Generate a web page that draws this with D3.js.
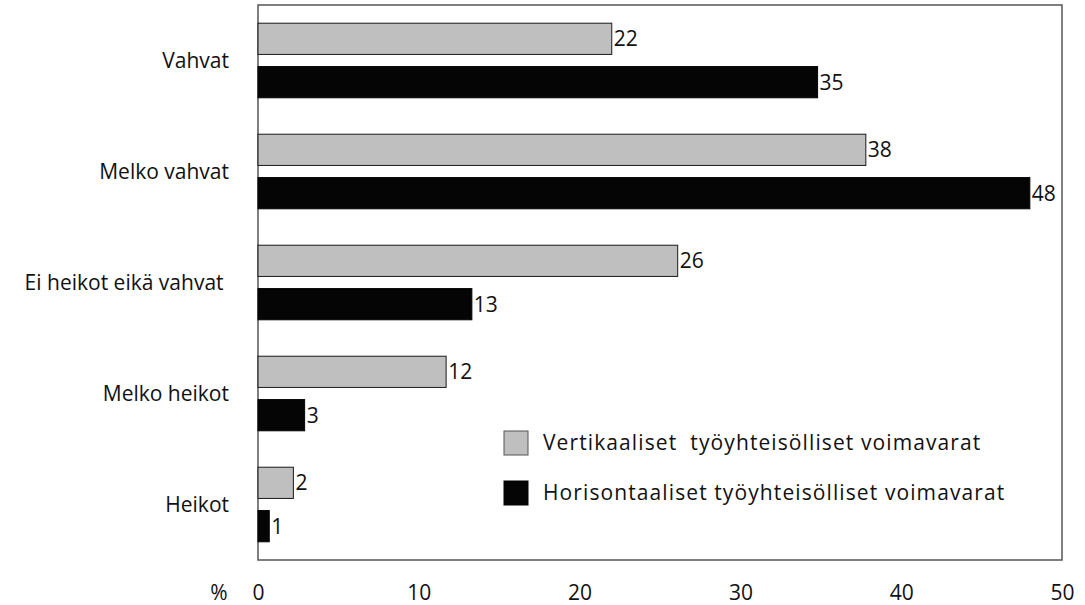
<!DOCTYPE html>
<html>
<head>
<meta charset="utf-8">
<script src="https://cdn.jsdelivr.net/npm/d3@7"></script>
<style>
  body { margin: 0; background: #fff; }
  text { font-family: "Open Sans", sans-serif; fill: #111; }
</style>
</head>
<body>
<svg id="chart" width="1085" height="605"></svg>
<script>
var categories = ["Vahvat", "Melko vahvat", "Ei heikot eikä vahvat ", "Melko heikot", "Heikot"];
var seriesNames = ["Vertikaaliset  työyhteisölliset voimavarat", "Horisontaaliset työyhteisölliset voimavarat"];
var vertical = [22.0, 37.8, 26.1, 11.7, 2.2];
var horizontal = [34.8, 48.0, 13.3, 2.9, 0.7];
var verticalLabels = ["22", "38", "26", "12", "2"];
var horizontalLabels = ["35", "48", "13", "3", "1"];
var ticks = [0, 10, 20, 30, 40, 50];

var colors = ["#bfbfbf", "#050505"];
var strokes = ["#1a1a1a", "#050505"];
var fontSize = "21px";

var svg = d3.select("#chart");
var plotLeft = 258, plotRight = 1062, plotTop = 5, plotBottom = 560;

var x = d3.scaleLinear().domain([0, 50]).range([plotLeft, plotRight]);
var y = d3.scaleBand().domain(categories).range([plotTop, plotBottom]);
var inner = d3.scaleBand().domain([0, 1]).range([0, y.bandwidth()]).paddingInner(0.28).paddingOuter(0.42);

var data = [];
categories.forEach(function(c, i) {
  data.push({cat: c, s: 0, v: vertical[i], label: verticalLabels[i]});
  data.push({cat: c, s: 1, v: horizontal[i], label: horizontalLabels[i]});
});

// frame
svg.append("rect")
  .attr("x", plotLeft).attr("y", plotTop)
  .attr("width", plotRight - plotLeft).attr("height", plotBottom - plotTop)
  .attr("fill", "none").attr("stroke", "#555").attr("stroke-width", 1.5);

svg.selectAll(".bar")
  .data(data)
  .enter().append("rect")
  .attr("class", "bar")
  .attr("x", x(0))
  .attr("y", function(d) { return y(d.cat) + inner(d.s); })
  .attr("width", function(d) { return x(d.v) - x(0); })
  .attr("height", inner.bandwidth())
  .attr("fill", function(d) { return colors[d.s]; })
  .attr("stroke", function(d) { return strokes[d.s]; })
  .attr("stroke-width", 1);

svg.selectAll(".val")
  .data(data)
  .enter().append("text")
  .attr("class", "val")
  .attr("x", function(d) { return x(d.v) + 2; })
  .attr("y", function(d) { return y(d.cat) + inner(d.s) + inner.bandwidth() / 2; })
  .attr("dy", "0.35em")
  .style("font-size", fontSize)
  .text(function(d) { return d.label; });

// category labels
svg.selectAll(".cat")
  .data(categories)
  .enter().append("text")
  .attr("class", "cat")
  .attr("x", 229)
  .attr("y", function(d) { return y(d) + y.bandwidth() / 2; })
  .attr("dy", "0.35em")
  .attr("text-anchor", "end")
  .style("font-size", fontSize)
  .style("white-space", "pre")
  .text(function(d) { return d; });

// x axis labels
var xAxis = svg.append("g")
  .attr("transform", "translate(0," + 593 + ")")
  .call(d3.axisBottom(x).tickValues(ticks).tickSize(0).tickPadding(0));
xAxis.select(".domain").remove();
xAxis.selectAll("text")
  .attr("y", 0).attr("dy", "0.35em")
  .style("font-family", "'Open Sans', sans-serif")
  .style("font-size", fontSize)
  .attr("fill", "#111");

svg.append("text")
  .attr("x", 219).attr("y", 593).attr("dy", "0.35em")
  .attr("text-anchor", "middle")
  .style("font-size", fontSize)
  .text("%");

// legend
var legend = svg.selectAll(".legend")
  .data(seriesNames)
  .enter().append("g")
  .attr("class", "legend")
  .attr("transform", function(d, i) { return "translate(504," + (431 + i * 50) + ")"; });

legend.append("rect")
  .attr("width", 24).attr("height", 24)
  .attr("fill", function(d, i) { return colors[i]; })
  .attr("stroke", function(d, i) { return i === 0 ? "#555" : colors[i]; });

legend.append("text")
  .attr("x", 39).attr("y", 12).attr("dy", "0.35em")
  .style("font-size", fontSize)
  .style("letter-spacing", "1.1px")
  .style("white-space", "pre")
  .text(function(d) { return d; });
</script>
</body>
</html>
